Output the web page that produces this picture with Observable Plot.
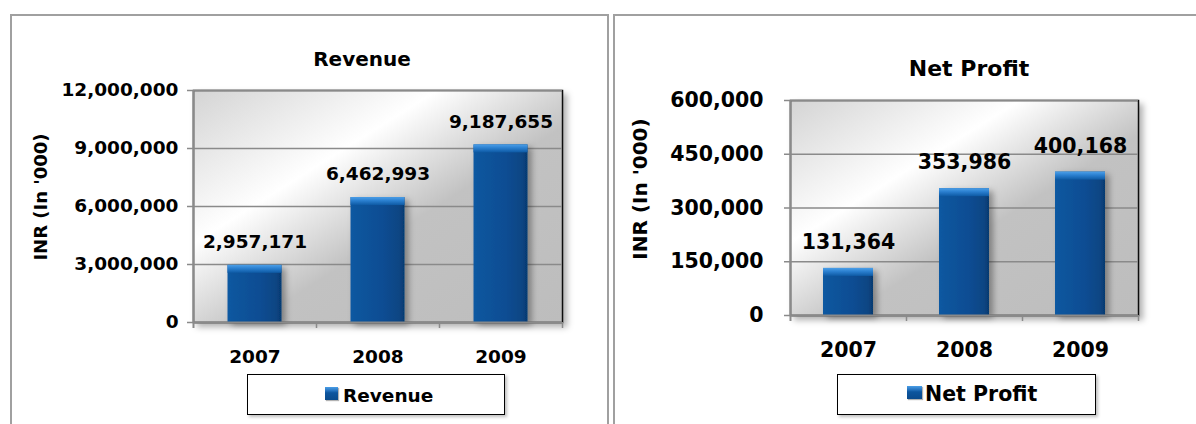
<!DOCTYPE html>
<html>
<head>
<meta charset="utf-8">
<script src="https://cdn.jsdelivr.net/npm/d3@7"></script>
<script src="https://cdn.jsdelivr.net/npm/@observablehq/plot@0.6"></script>
<style>
  html, body { margin: 0; padding: 0; background: #fff; }
  body { width: 1196px; height: 424px; position: relative; overflow: hidden; font-family: "DejaVu Sans", Verdana, sans-serif; color: #000; }
  .panel { position: absolute; border: 2px solid #a0a0a0; box-sizing: border-box; }
  .abs { position: absolute; }
  .title { position: absolute; font-weight: bold; white-space: nowrap; transform: translate(-50%, -50%); }
  .ylab { position: absolute; font-weight: bold; white-space: nowrap; transform: translate(-50%, -50%) rotate(-90deg); }
  .legend { position: absolute; border: 1.5px solid #000; box-sizing: border-box; background: #fff; box-shadow: 2px 2px 3px rgba(0,0,0,0.25); }
  .swatch { position: absolute; background: linear-gradient(180deg, #4a9ee6 0%, #2a78c4 25%, #0d559e 45%, #0a4a8c 100%); box-shadow: 1px 1px 1px rgba(0,0,0,0.3); }
  .legtext { position: absolute; font-weight: bold; white-space: nowrap; transform: translateY(-50%); }
</style>
</head>
<body>
<svg width="0" height="0" style="position:absolute">
  <defs>
    <linearGradient id="bgGrad" x1="0" y1="0" x2="1" y2="1">
      <stop offset="0" stop-color="#d4d4d4"/>
      <stop offset="0.33" stop-color="#ffffff"/>
      <stop offset="0.58" stop-color="#c2c2c2"/>
      <stop offset="1" stop-color="#bdbdbd"/>
    </linearGradient>
    <linearGradient id="barGrad" x1="0" y1="0" x2="1" y2="0">
      <stop offset="0" stop-color="#0f5aa2"/>
      <stop offset="0.12" stop-color="#0c559d"/>
      <stop offset="0.6" stop-color="#0a4d93"/>
      <stop offset="0.9" stop-color="#084583"/>
      <stop offset="1" stop-color="#063a70"/>
    </linearGradient>
    <linearGradient id="bevelGrad" x1="0" y1="0" x2="0" y2="1">
      <stop offset="0" stop-color="#4c9fe8"/>
      <stop offset="0.45" stop-color="#2a7fcf"/>
      <stop offset="1" stop-color="#0e5aa4"/>
    </linearGradient>
    <filter id="shadow" x="-20%" y="-20%" width="150%" height="150%">
      <feDropShadow dx="4" dy="3" stdDeviation="3" flood-color="#000" flood-opacity="0.35"/>
    </filter>
    <filter id="frameShadow" x="-10%" y="-10%" width="130%" height="130%">
      <feDropShadow dx="4" dy="4" stdDeviation="3" flood-color="#000" flood-opacity="0.3"/>
    </filter>
  </defs>
</svg>
<div id="root"></div>
<script>
// ---- data ----
const years = ["2007", "2008", "2009"];
const revenue = [2957171, 6462993, 9187655];
const netProfit = [131364, 353986, 400168];
const revenueTicks = [0, 3000000, 6000000, 9000000, 12000000];
const profitTicks = [0, 150000, 300000, 450000, 600000];
const revenueTitle = "Revenue";
const profitTitle = "Net Profit";
const yAxisLabel = "INR (In '000)";

const fmt = d3.format(",");

function addEl(cls, style, text) {
  const el = document.createElement("div");
  el.className = cls;
  Object.assign(el.style, style);
  if (text != null) el.textContent = text;
  document.body.appendChild(el);
  return el;
}

// panels
addEl("panel", {left: "10px", top: "14px", width: "599px", height: "430px"});
addEl("panel", {left: "613px", top: "14px", width: "600px", height: "430px"});

function makeChart(cfg) {
  const data = years.map((y, i) => ({year: y, value: cfg.values[i]}));
  const plotW = cfg.width - cfg.mL - cfg.mR;
  const bw = plotW / years.length;
  const yMax = cfg.ticks[cfg.ticks.length - 1];
  const grey = "#8a8a8a";
  const svg = Plot.plot({
    width: cfg.width,
    height: cfg.height,
    marginLeft: cfg.mL,
    marginRight: cfg.mR,
    marginTop: cfg.mT,
    marginBottom: cfg.mB,
    style: {background: "transparent", overflow: "visible", color: "#000", fontFamily: "DejaVu Sans, Verdana, sans-serif"},
    x: {domain: years, padding: 0},
    y: {domain: [0, yMax]},
    marks: [
      Plot.frame({fill: "url(#bgGrad)", stroke: "#111", strokeWidth: 1.5}),
      Plot.gridY(cfg.ticks, {stroke: grey, strokeOpacity: 1, strokeWidth: 1.5}),
      Plot.barY(data, {x: "year", y: "value", fill: "url(#barGrad)", insetLeft: cfg.inset, insetRight: cfg.inset}),
      Plot.barY(data, {x: "year", y1: "value", y2: "value", fill: "url(#bevelGrad)", insetLeft: cfg.inset, insetRight: cfg.inset, insetBottom: -8}),
      Plot.ruleY([0], {stroke: grey, strokeWidth: 2}),
      Plot.ruleX([years[0]], {x: d => d, y1: () => yMax, y2: () => 0, dx: -bw / 2, insetBottom: -6, stroke: grey, strokeWidth: 2}),
      Plot.ruleX(years.slice(1), {x: d => d, y1: () => 0, y2: () => 0, dx: -bw / 2, insetBottom: -6, stroke: grey, strokeWidth: 1.5}),
      Plot.ruleX([years[years.length - 1]], {x: d => d, y1: () => 0, y2: () => 0, dx: bw / 2, insetBottom: -6, stroke: grey, strokeWidth: 1.5}),
      Plot.axisY(cfg.ticks, {tickFormat: fmt, tickSize: 6, tickPadding: cfg.yPad, stroke: grey, strokeWidth: 1.5, fontSize: cfg.fs, fontWeight: "bold", label: null}),
      Plot.axisX({tickSize: 0, tickPadding: cfg.xPad, fontSize: cfg.fs, fontWeight: "bold", label: null}),
      Plot.text(data, {x: "year", y: "value", text: d => fmt(d.value), dy: cfg.labelDy, fontSize: cfg.fs, fontWeight: "bold", fill: "#000"})
    ]
  });
  const s = d3.select(svg);
  s.select('[aria-label="frame"]').attr("filter", "url(#frameShadow)");
  s.select('g[aria-label="bar"]').attr("filter", "url(#shadow)");
  const wrap = document.createElement("div");
  wrap.className = "abs";
  wrap.style.left = cfg.left + "px";
  wrap.style.top = "0px";
  wrap.style.width = cfg.width + "px";
  wrap.appendChild(svg);
  document.body.appendChild(wrap);

  // title, y label, legend
  addEl("title", {left: cfg.titleX + "px", top: cfg.titleY + "px", fontSize: cfg.titleFs + "px"}, cfg.title);
  addEl("ylab", {left: cfg.ylabX + "px", top: cfg.ylabY + "px", fontSize: cfg.ylabFs + "px"}, yAxisLabel);
  const lg = cfg.legend;
  addEl("legend", {left: lg.x + "px", top: lg.y + "px", width: lg.w + "px", height: lg.h + "px"});
  addEl("swatch", {left: lg.sx + "px", top: lg.sy + "px", width: lg.sw + "px", height: lg.sh + "px"});
  addEl("legtext", {left: lg.tx + "px", top: lg.ty + "px", fontSize: lg.fs + "px"}, cfg.title);
}

makeChart({
  values: revenue, ticks: revenueTicks, title: revenueTitle,
  left: 0, width: 600, height: 424, mL: 193, mR: 38, mT: 90, mB: 102,
  inset: 34.5, fs: 18.5, yPad: 9, xPad: 27, labelDy: -23,
  titleX: 362, titleY: 59, titleFs: 20,
  ylabX: 40, ylabY: 197, ylabFs: 18,
  legend: {x: 247, y: 374, w: 258, h: 41, sx: 325, sy: 387, sw: 13, sh: 13, tx: 343, ty: 395, fs: 18.5}
});

makeChart({
  values: netProfit, ticks: profitTicks, title: profitTitle,
  left: 600, width: 596, height: 424, mL: 190, mR: 58, mT: 100, mB: 109,
  inset: 33, fs: 20.5, yPad: 21, xPad: 27, labelDy: -26,
  titleX: 969, titleY: 68, titleFs: 22,
  ylabX: 640, ylabY: 189, ylabFs: 20,
  legend: {x: 837, y: 374, w: 259, h: 41, sx: 907, sy: 386, sw: 15, sh: 13, tx: 925, ty: 394, fs: 20.5}
});
</script>
</body>
</html>
